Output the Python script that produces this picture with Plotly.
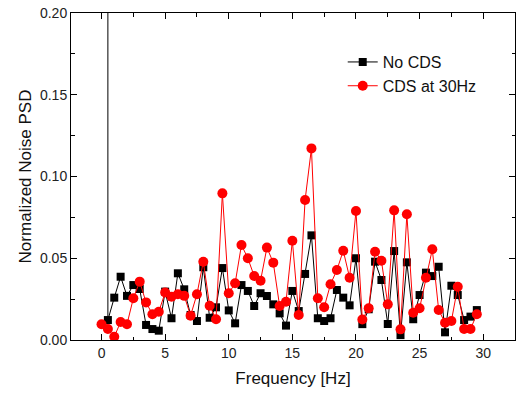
import plotly.graph_objects as go

freq_no_cds = [0.5, 0.5, 1.0, 1.5, 2.0, 2.5, 3.0, 3.5, 4.0, 4.5, 5.0, 5.5, 6.0, 6.5, 7.0, 7.5,
               8.0, 8.5, 9.0, 9.5, 10.0, 10.5, 11.0, 11.5, 12.0, 12.5, 13.0, 13.5, 14.0, 14.5,
               15.0, 15.5, 16.0, 16.5, 17.0, 17.5, 18.0, 18.5, 19.0, 19.5, 20.0, 20.5, 21.0,
               21.5, 22.0, 22.5, 23.0, 23.5, 24.0, 24.5, 25.0, 25.5, 26.0, 26.5, 27.0, 27.5,
               28.0, 28.5, 29.0, 29.5]
psd_no_cds = [1.0, 0.0122, 0.0259, 0.0387, 0.027, 0.0336, 0.0312, 0.0092, 0.0067, 0.0057,
              0.0296, 0.0133, 0.0408, 0.031, 0.0153, 0.0116, 0.0445, 0.0136, 0.020, 0.044,
              0.0181, 0.0102, 0.0336, 0.030, 0.0208, 0.0286, 0.0269, 0.0218, 0.0163, 0.0088,
              0.030, 0.0177, 0.0404, 0.064, 0.0133, 0.0116, 0.0133, 0.0306, 0.0259, 0.0212,
              0.050, 0.0097, 0.0188, 0.0479, 0.0367, 0.0098, 0.0544, 0.003, 0.0475, 0.0127,
              0.0275, 0.0412, 0.0391, 0.0448, 0.0047, 0.0332, 0.0275, 0.0122, 0.0143, 0.0183]

freq_cds = [0.0, 0.5, 1.0, 1.5, 2.0, 2.5, 3.0, 3.5, 4.0, 4.5, 5.0, 5.5, 6.0, 6.5, 7.0, 7.5,
            8.0, 8.5, 9.0, 9.5, 10.0, 10.5, 11.0, 11.5, 12.0, 12.5, 13.0, 13.5, 14.0, 14.5,
            15.0, 15.5, 16.0, 16.5, 17.0, 17.5, 18.0, 18.5, 19.0, 19.5, 20.0, 20.5, 21.0,
            21.5, 22.0, 22.5, 23.0, 23.5, 24.0, 24.5, 25.0, 25.5, 26.0, 26.5, 27.0, 27.5,
            28.0, 28.5, 29.0, 29.5]
psd_cds = [0.0096, 0.0067, 0.002, 0.011, 0.0096, 0.0255, 0.0357, 0.023, 0.0157, 0.0173,
           0.029, 0.0265, 0.028, 0.027, 0.0149, 0.028, 0.0479, 0.021, 0.0127, 0.0897,
           0.0286, 0.0347, 0.0581, 0.050, 0.0391, 0.0363, 0.0565, 0.0473, 0.0208, 0.0234,
           0.0607, 0.0153, 0.0856, 0.1172, 0.0255, 0.020, 0.0341, 0.0428, 0.0546, 0.0381,
           0.0789, 0.0125, 0.0194, 0.054, 0.0485, 0.0218, 0.0793, 0.0065, 0.0769, 0.0167,
           0.0194, 0.0381, 0.0555, 0.0183, 0.0106, 0.0116, 0.0326, 0.0067, 0.0067, 0.0157]

x_ticks = [0, 5, 10, 15, 20, 25, 30]
y_ticks = [0.00, 0.05, 0.10, 0.15, 0.20]

font_family = "Liberation Sans, Arial, sans-serif"

fig = go.Figure()
fig.add_trace(go.Scatter(
    x=freq_no_cds, y=psd_no_cds, mode="lines+markers", name="No CDS",
    line=dict(color="black", width=1),
    marker=dict(symbol="square", size=8, color="black"),
))
fig.add_trace(go.Scatter(
    x=freq_cds, y=psd_cds, mode="lines+markers", name="CDS at 30Hz",
    line=dict(color="#ff0000", width=1),
    marker=dict(symbol="circle", size=10, color="#ff0000"),
))

axis_common = dict(
    showline=True, linecolor="black", linewidth=1, mirror="allticks",
    ticks="inside", ticklen=6, tickwidth=1, tickcolor="black",
    showgrid=False, zeroline=False,
    tickfont=dict(family=font_family, size=14, color="#222"),
)

fig.update_layout(
    width=517, height=398,
    margin=dict(l=71, r=2, t=13, b=58),
    paper_bgcolor="white", plot_bgcolor="white",
    font=dict(family=font_family, color="#222"),
    showlegend=True,
    legend=dict(
        x=0.612, y=0.902, xanchor="left", yanchor="top",
        bgcolor="rgba(0,0,0,0)", font=dict(family=font_family, size=16, color="#111"),
        tracegroupgap=0,
    ),
    xaxis=dict(
        range=[-2.4, 32.5], tickmode="array", tickvals=x_ticks,
        ticktext=[str(v) for v in x_ticks],
        minor=dict(tickmode="linear", tick0=0, dtick=2.5, ticks="inside", ticklen=3.5,
                   tickcolor="black", showgrid=False),
        title=dict(text="Frequency [Hz]", font=dict(family=font_family, size=17, color="#111"),
                   standoff=12),
        **axis_common,
    ),
    yaxis=dict(
        range=[0, 0.2], tickmode="array", tickvals=y_ticks,
        ticktext=[f"{v:.2f}" for v in y_ticks],
        minor=dict(tickmode="linear", tick0=0, dtick=0.025, ticks="inside", ticklen=3.5,
                   tickcolor="black", showgrid=False),
        title=dict(text="Normalized Noise PSD", font=dict(family=font_family, size=17, color="#111"),
                   standoff=4),
        **axis_common,
    ),
)

fig.write_html("out.html")
